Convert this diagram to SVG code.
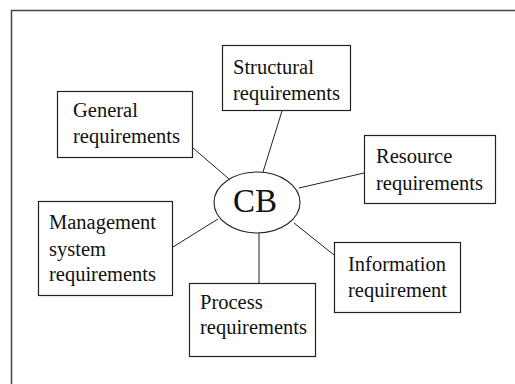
<svg xmlns="http://www.w3.org/2000/svg" width="515" height="384" viewBox="0 0 515 384">
<style>
.box{fill:#fff;stroke:#222;stroke-width:1.2}
.t{font-family:'Liberation Serif',serif;font-size:20.5px;fill:#111}
.c{stroke:#222;stroke-width:1;fill:none}
</style>
<rect width="515" height="384" fill="#fff"/>
<path d="M11.5,390 V10.5 H520" fill="none" stroke="#444" stroke-width="1.5"/>
<g id="connectors">
<line class="c" x1="193" y1="148" x2="229" y2="179"/>
<line class="c" x1="282" y1="111" x2="263" y2="172"/>
<line class="c" x1="299" y1="188" x2="364" y2="173"/>
<line class="c" x1="173" y1="247" x2="218" y2="219"/>
<line class="c" x1="259" y1="233" x2="259" y2="283"/>
<line class="c" x1="294" y1="223" x2="334" y2="255"/>
</g>
<g id="cb">
<ellipse cx="257" cy="202.5" rx="43" ry="30.5" fill="#fff" stroke="#222" stroke-width="1.1"/>
<text x="255" y="212" text-anchor="middle" font-family="Liberation Serif, serif" font-size="33" fill="#111">CB</text>
</g>
<g id="general">
<rect class="box" x="57.5" y="91.5" width="135" height="66"/>
<text class="t" x="73" y="117">General</text>
<text class="t" x="73" y="143">requirements</text>
</g>
<g id="structural">
<rect class="box" x="222.5" y="45.5" width="128" height="65"/>
<text class="t" x="233" y="74">Structural</text>
<text class="t" x="233" y="100">requirements</text>
</g>
<g id="resource">
<rect class="box" x="364.5" y="135.5" width="131" height="68"/>
<text class="t" x="376" y="163">Resource</text>
<text class="t" x="376" y="190">requirements</text>
</g>
<g id="management">
<rect class="box" x="38.5" y="201.5" width="134" height="94"/>
<text class="t" x="49" y="229">Management</text>
<text class="t" x="49" y="256">system</text>
<text class="t" x="49" y="281">requirements</text>
</g>
<g id="process">
<rect class="box" x="189.5" y="283.5" width="126" height="73"/>
<text class="t" x="200" y="309">Process</text>
<text class="t" x="200" y="334">requirements</text>
</g>
<g id="information">
<rect class="box" x="334.5" y="242.5" width="126" height="70"/>
<text class="t" x="348" y="271">Information</text>
<text class="t" x="348" y="297">requirement</text>
</g>
</svg>
